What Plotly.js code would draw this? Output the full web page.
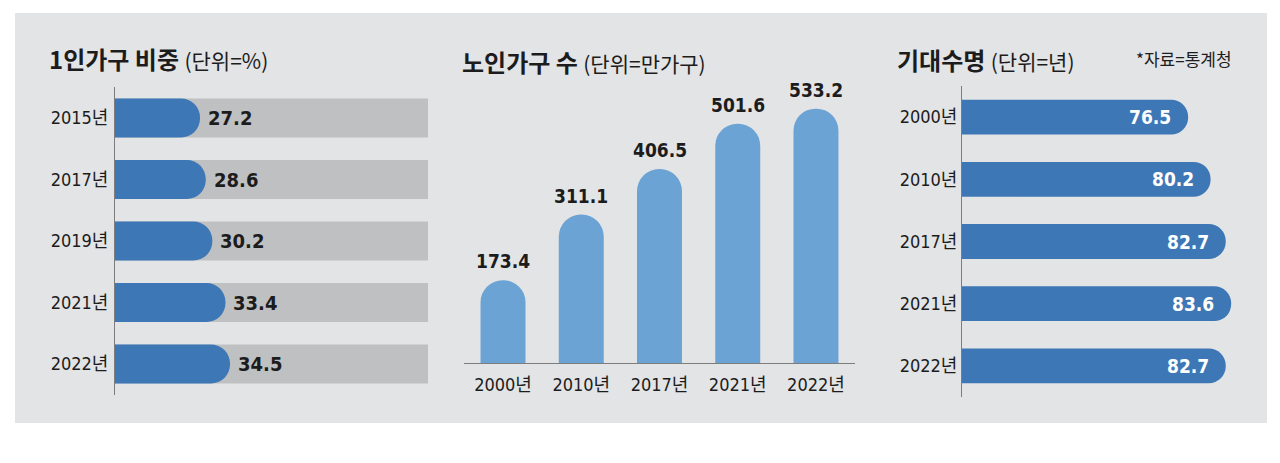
<!DOCTYPE html>
<html>
<head>
<meta charset="utf-8">
<script src="https://cdn.plot.ly/plotly-3.0.1.min.js"></script>
<style>
  html, body { margin: 0; padding: 0; background: #ffffff; }
  #chart { width: 1280px; height: 463px; }
</style>
</head>
<body>
<div id="chart"></div>
<script>
// ---- Data ----
const shareYears = ['2015년', '2017년', '2019년', '2021년', '2022년'];
const shareValues = [27.2, 28.6, 30.2, 33.4, 34.5];
const shareFull = [100, 100, 100, 100, 100];

const elderYears = ['2000년', '2010년', '2017년', '2021년', '2022년'];
const elderValues = [173.4, 311.1, 406.5, 501.6, 533.2];

const lifeYears = ['2000년', '2010년', '2017년', '2021년', '2022년'];
const lifeValues = [76.5, 80.2, 82.7, 83.6, 82.7];

const titles = {
  share: ['1인가구 비중', '(단위=%)'],
  elder: ['노인가구 수', '(단위=만가구)'],
  life: ['기대수명', '(단위=년)'],
  source: '*자료=통계청'
};

// ---- Styles ----
const W = 1280, H = 463;
const px = v => v / W;
const py = v => 1 - v / H;
const NUM_FONT = "'DejaVu Sans Condensed', 'Roboto Condensed', 'Liberation Sans Narrow', Roboto, 'Noto Sans CJK KR', sans-serif";
const KR_FONT = "'Noto Sans CJK KR', 'Noto Sans', sans-serif";
const TEXT = '#1c1c1c';
const BLUE = '#3e77b6';
const LIGHT_BLUE = '#6ca3d5';
const TRACK = '#bfc0c2';
const PANEL = '#e3e4e6';
const AXIS = '#7d7d7d';

const traces = [
  // grey 100% track (bottom subplot)
  { type: 'bar', orientation: 'h', x: shareFull, y: shareYears, xaxis: 'x', yaxis: 'y',
    width: 0.634, marker: { color: TRACK }, hoverinfo: 'skip' },
  // blue share bars on an overlaying axis so their ends can be rounded
  { type: 'bar', orientation: 'h', x: shareValues, y: shareYears, xaxis: 'x4', yaxis: 'y',
    width: 0.634, marker: { color: BLUE, cornerradius: '50%' }, hoverinfo: 'skip' },
  { type: 'bar', x: elderYears, y: elderValues, xaxis: 'x2', yaxis: 'y2',
    width: 0.575, marker: { color: LIGHT_BLUE, cornerradius: '50%' }, hoverinfo: 'skip' },
  { type: 'bar', orientation: 'h', x: lifeValues, y: lifeYears, xaxis: 'x3', yaxis: 'y3',
    width: 0.56, marker: { color: BLUE, cornerradius: '50%' }, hoverinfo: 'skip' }
];

const annotations = [];
shareValues.forEach((v, i) => annotations.push({
  xref: 'x', yref: 'y', x: v, y: shareYears[i], text: v.toFixed(1),
  xanchor: 'left', yanchor: 'middle', xshift: 6, showarrow: false,
  font: { family: NUM_FONT, size: 20, color: TEXT, weight: 700 }
}));
elderValues.forEach((v, i) => annotations.push({
  xref: 'x2', yref: 'y2', x: elderYears[i], y: v, text: v.toFixed(1),
  xanchor: 'center', yanchor: 'bottom', yshift: 6, showarrow: false,
  font: { family: NUM_FONT, size: 19, color: TEXT, weight: 700 }
}));
lifeValues.forEach((v, i) => annotations.push({
  xref: 'x3', yref: 'y3', x: v, y: lifeYears[i], text: v.toFixed(1),
  xanchor: 'right', yanchor: 'middle', xshift: -15, showarrow: false,
  font: { family: NUM_FONT, size: 19, color: '#ffffff', weight: 700 }
}));

function titleAnn(parts, x, y) {
  return {
    xref: 'paper', yref: 'paper', x: px(x), y: py(y), xanchor: 'left', yanchor: 'middle',
    showarrow: false,
    text: '<b>' + parts[0] + '</b> <span style="font-size:21px">' + parts[1] + '</span>',
    font: { family: KR_FONT, size: 24, color: TEXT }
  };
}
annotations.push(titleAnn(titles.share, 47, 59));
annotations.push(titleAnn(titles.elder, 460, 61));
annotations.push(titleAnn(titles.life, 895, 60));
annotations.push({
  xref: 'paper', yref: 'paper', x: px(1234), y: py(59), xanchor: 'right', yanchor: 'middle',
  showarrow: false, text: titles.source,
  font: { family: KR_FONT, size: 17, color: TEXT }
});

const tickFont = { family: NUM_FONT, size: 18, color: TEXT };

const layout = {
  width: W, height: H,
  margin: { l: 0, r: 0, t: 0, b: 0, pad: 0 },
  paper_bgcolor: '#ffffff',
  plot_bgcolor: 'rgba(0,0,0,0)',
  showlegend: false,
  barmode: 'overlay',
  hovermode: false,
  shapes: [{
    type: 'rect', xref: 'paper', yref: 'paper', layer: 'below',
    x0: px(15), x1: px(1267), y0: py(423), y1: py(13),
    fillcolor: PANEL, line: { width: 0 }
  }],
  xaxis: { domain: [px(115), px(428)], range: [6.5, 82.7], visible: false, anchor: 'y', fixedrange: true },
  xaxis4: { domain: [px(115), px(428)], range: [6.5, 82.7], visible: false, anchor: 'y', overlaying: 'x', fixedrange: true },
  yaxis: { domain: [py(394.75), py(87.25)], type: 'category', autorange: 'reversed', anchor: 'x',
    showline: true, linecolor: AXIS, linewidth: 1, showgrid: false, zeroline: false,
    ticks: '', ticklabelstandoff: 2, tickfont: tickFont, fixedrange: true },
  xaxis2: { domain: [px(463.9), px(855.1)], type: 'category', anchor: 'y2',
    showline: true, linecolor: AXIS, linewidth: 1, showgrid: false, zeroline: false,
    ticks: '', ticklabelstandoff: 5, tickfont: tickFont, fixedrange: true },
  yaxis2: { domain: [py(363), py(100)], range: [0, 551.4], visible: false, anchor: 'x2', fixedrange: true },
  xaxis3: { domain: [px(962), px(1250)], range: [39.2, 86.7], visible: false, anchor: 'y3', fixedrange: true },
  yaxis3: { domain: [py(397), py(86)], type: 'category', autorange: 'reversed', anchor: 'x3',
    showline: true, linecolor: AXIS, linewidth: 1, showgrid: false, zeroline: false,
    ticks: '', ticklabelstandoff: 0, tickfont: tickFont, fixedrange: true },
  annotations: annotations
};

Plotly.newPlot('chart', traces, layout, { staticPlot: true, displayModeBar: false });
</script>
</body>
</html>
